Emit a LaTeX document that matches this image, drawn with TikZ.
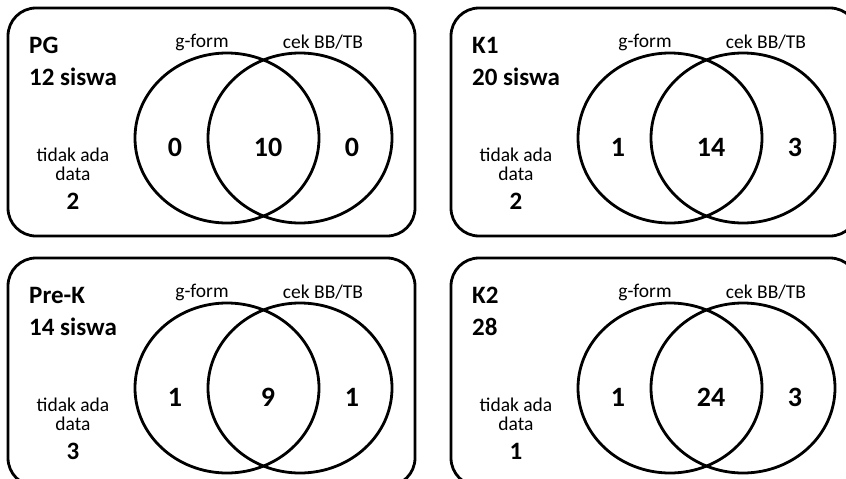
\documentclass[tikz,border=0pt]{standalone}
\usepackage{fontspec}
\setmainfont{Carlito}
\usetikzlibrary{shapes.geometric}
\tikzset{
  panelbox/.style={draw, line width=2.8pt, rounded corners=28pt},
  setcirc/.style={draw, ellipse, line width=2.8pt, inner sep=0pt, minimum width=184pt, minimum height=170pt},
  titletxt/.style={font=\fontsize{25}{30}\selectfont\bfseries, anchor=base west, inner sep=0pt},
  settxt/.style={font=\fontsize{19.5}{23}\selectfont, inner sep=0pt},
  numtxt/.style={font=\fontsize{28}{32}\selectfont\bfseries, inner sep=0pt},
  nodatatxt/.style={font=\fontsize{19.5}{23}\selectfont, align=center, inner sep=0pt},
  nodatanum/.style={font=\fontsize{25}{30}\selectfont\bfseries, inner sep=0pt}
}
\newcommand\vennpanel[9]{%
  \begin{scope}[shift={(#2,#3)}]
    \draw[panelbox] (8,8) rectangle (415,236);
    \node[setcirc] (#1A) at (227,138) {};
    \node[setcirc] (#1B) at (300,138) {};
    \node[titletxt] (#1t1) at (29,53) {#4};
    \node[titletxt] (#1t2) at (29,85) {#5};
    \node[settxt] (#1la) at (202,42) {g-form};
    \node[settxt] (#1lb) at (323,42) {cek BB/TB};
    \node[numtxt] (#1n1) at (175,147) {#6};
    \node[numtxt] (#1n2) at (268,147) {#7};
    \node[numtxt] (#1n3) at (352,147) {#8};
    \node[settxt] (#1d1) at (73,155) {tidak ada};
    \node[settxt] (#1d2) at (73,174) {data};
    \node[nodatanum] (#1d3) at (73,201) {#9};
  \end{scope}}
\begin{document}
\begin{tikzpicture}[x=1pt, y=-1pt]
  \useasboundingbox (0,0) rectangle (846,479);
  \vennpanel{pg}{0}{0}{PG}{12 siswa}{0}{10}{0}{2}
  \vennpanel{ka}{443}{0}{K1}{20 siswa}{1}{14}{3}{2}
  \vennpanel{pk}{0}{250}{Pre-K}{14 siswa}{1}{9}{1}{3}
  \vennpanel{kb}{443}{250}{K2}{28}{1}{24}{3}{1}
\end{tikzpicture}
\end{document}
